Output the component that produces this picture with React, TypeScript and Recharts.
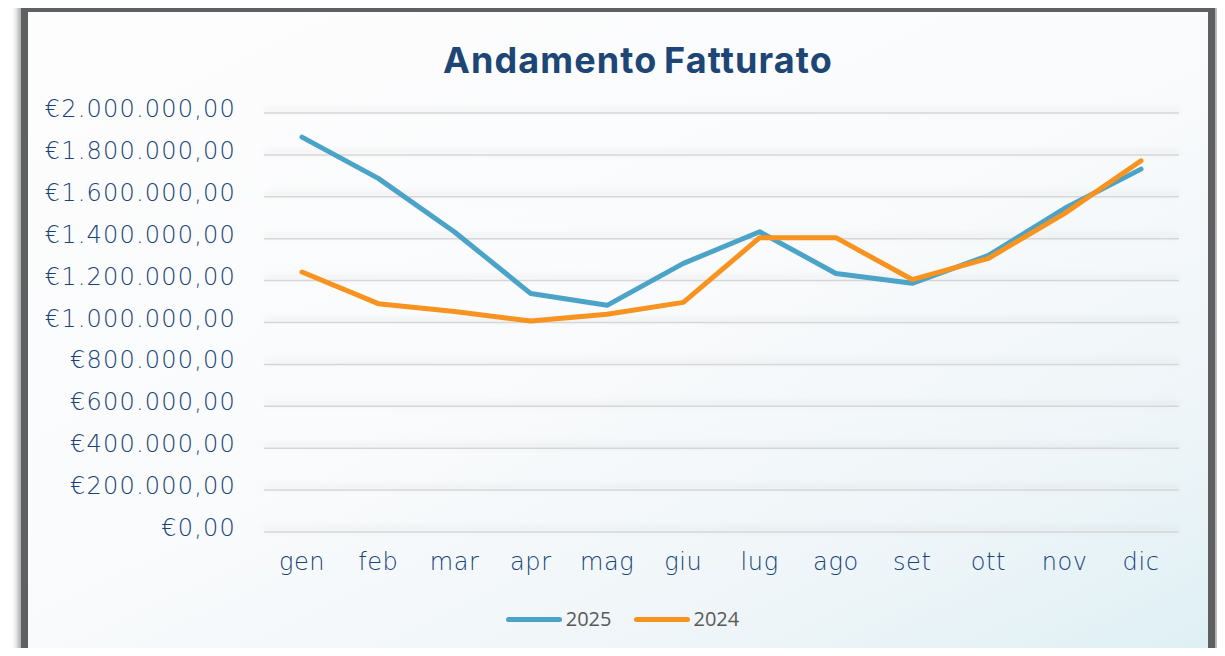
import { CartesianGrid, Line, LineChart, XAxis, YAxis } from "recharts";

const months = ["gen", "feb", "mar", "apr", "mag", "giu", "lug", "ago", "set", "ott", "nov", "dic"];
const sales2025 = [1885000, 1688000, 1432000, 1138000, 1082000, 1282000, 1433000, 1234000, 1187000, 1320000, 1545000, 1732000];
const sales2024 = [1241000, 1090000, 1053000, 1007000, 1039000, 1096000, 1405000, 1405000, 1205000, 1306000, 1521000, 1772000];
const yTicks = [0, 200000, 400000, 600000, 800000, 1000000, 1200000, 1400000, 1600000, 1800000, 2000000];

const series = [
  { key: "y2025", label: "2025", color: "#4ba3c8" },
  { key: "y2024", label: "2024", color: "#f7931e" },
];

const data = months.map((m, i) => ({ month: m, y2025: sales2025[i], y2024: sales2024[i] }));

const labelBlue = "#174379";
const axisFont = "'DejaVu Sans', sans-serif";

// euro with italian separators, e.g. €1.200.000,00
function formatEuro(v: number): string {
  const whole = Math.round(v).toString().replace(/\B(?=(\d{3})+(?!\d))/g, ".");
  return `€${whole},00`;
}

function YTick(props: any) {
  const { x, y, payload } = props;
  return (
    <text x={x} y={y} dy={-3} textAnchor="end" dominantBaseline="middle" fill={labelBlue}
      fontSize={24} fontFamily={axisFont} fontWeight={200} letterSpacing={1.2}>
      {formatEuro(payload.value)}
    </text>
  );
}

function XTick(props: any) {
  const { x, y, payload } = props;
  return (
    <text x={x} y={y} dy={38} textAnchor="middle" fill={labelBlue}
      fontSize={24} fontFamily={axisFont} fontWeight={200} letterSpacing={0.6}>
      {payload.value}
    </text>
  );
}

export default function App() {
  return (
    <div style={{ position: "relative", width: 1225, height: 656, margin: -8, overflow: "hidden", background: "#ffffff" }}>
      <style>{`.recharts-cartesian-grid-horizontal line { filter: drop-shadow(0 -3px 3px rgba(0,0,0,0.13)); }`}</style>
      <div
        style={{
          position: "absolute",
          left: 28,
          top: 12,
          width: 1180,
          height: 720,
          background: "linear-gradient(155deg, #fdfdfe 0%, #fafbfc 45%, #eef5f8 75%, #d9eef4 100%)",
          boxShadow: "0 0 0 7px #5f6062, 0 0 6px 10px rgba(80,80,80,0.55)",
        }}
      />
      <div
        style={{
          position: "absolute",
          left: 48,
          width: 1180,
          top: 38,
          textAlign: "center",
          fontFamily: "Inter, sans-serif",
          fontWeight: 700,
          fontSize: 36,
          letterSpacing: 1.1,
          wordSpacing: -3,
          color: "#1e4675",
          lineHeight: "44px",
        }}
      >
        Andamento Fatturato
      </div>
      <div style={{ position: "absolute", left: 0, top: 0 }}>
        <LineChart width={1225} height={656} data={data} margin={{ top: 113, right: 46, bottom: 84, left: 40 }}>
          <CartesianGrid vertical={false} stroke="#d6d6d6" strokeWidth={1.5} />
          <XAxis
            dataKey="month"
            axisLine={false}
            tickLine={false}
            tickSize={0}
            tickMargin={0}
            height={40}
            padding={{ left: 38, right: 38 }}
            tick={<XTick />}
            interval={0}
          />
          <YAxis
            domain={[0, 2000000]}
            ticks={yTicks}
            axisLine={false}
            tickLine={false}
            tickSize={0}
            tickMargin={28}
            width={224}
            tick={<YTick />}
            interval={0}
          />
          {series.map((s) => (
            <Line
              key={s.key}
              dataKey={s.key}
              stroke={s.color}
              strokeWidth={5}
              dot={false}
              type="linear"
              strokeLinecap="round"
              strokeLinejoin="round"
              isAnimationActive={false}
            />
          ))}
        </LineChart>
      </div>
      <div
        style={{
          position: "absolute",
          top: 606,
          left: 0,
          width: 1225,
          display: "flex",
          justifyContent: "center",
          gap: 22,
          paddingLeft: 20,
          boxSizing: "border-box",
          fontFamily: "'Open Sans', sans-serif",
          fontSize: 20,
          color: "#595959",
        }}
      >
        {series.map((s) => (
          <div key={s.key} style={{ display: "flex", alignItems: "center", gap: 4 }}>
            <span style={{ display: "inline-block", width: 56, height: 5, borderRadius: 3, background: s.color }} />
            <span style={{ lineHeight: "26px" }}>{s.label}</span>
          </div>
        ))}
      </div>
    </div>
  );
}
